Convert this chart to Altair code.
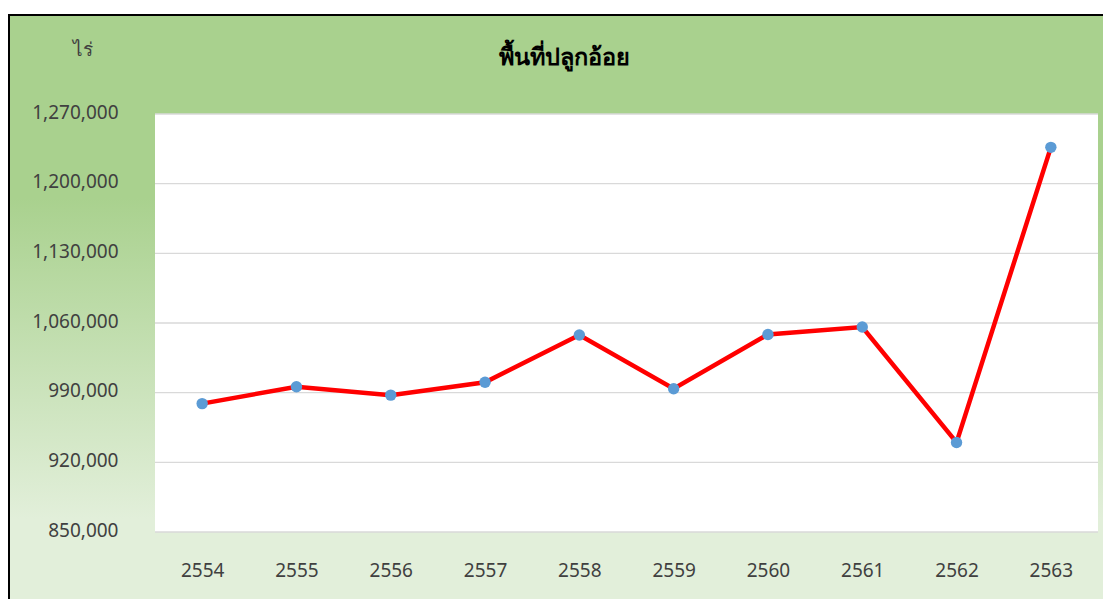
import altair as alt
import pandas as pd

years = ["2554", "2555", "2556", "2557", "2558", "2559", "2560", "2561", "2562", "2563"]
area = [979000, 996000, 987500, 1000500, 1048000, 994000, 1048500, 1056000, 940000, 1236500]
ticks = [850000, 920000, 990000, 1060000, 1130000, 1200000, 1270000]
title_text = "พื้นที่ปลูกอ้อย"
unit_text = "ไร่"

W, H = 943, 418
FONT = "Noto Sans"

df = pd.DataFrame({"year": years, "area": area})
grid_df = pd.DataFrame({"v": ticks})
one = pd.DataFrame({"a": [0]})

ydom = [ticks[0], ticks[-1]]

bg = alt.Chart(one).mark_rect(
    fill={
        "gradient": "linear",
        "x1": 0, "y1": 0, "x2": 0, "y2": 1,
        "stops": [
            {"offset": 0.0, "color": "#A9D18E"},
            {"offset": 0.305, "color": "#A9D18E"},
            {"offset": 0.84, "color": "#E2EFDA"},
            {"offset": 1.0, "color": "#E2EFDA"},
        ],
    },
    stroke="black",
    strokeWidth=2,
).encode(
    x=alt.value(-146), x2=alt.value(W + 200),
    y=alt.value(-99), y2=alt.value(501),
)

plot_bg = alt.Chart(one).mark_rect(fill="white").encode(
    x=alt.value(0), x2=alt.value(W), y=alt.value(0), y2=alt.value(H)
)

grid = alt.Chart(grid_df).mark_rule(color="#D9D9D9", strokeWidth=1.3).encode(
    y=alt.Y("v:Q", scale=alt.Scale(domain=ydom, nice=False, zero=False))
)

line = alt.Chart(df).mark_line(
    color="#FF0000", strokeWidth=4.5,
    point=alt.OverlayMarkDef(filled=True, color="#5B9BD5", size=130, opacity=1),
).encode(
    x=alt.X("year:O", sort=years, scale=alt.Scale(padding=0.5),
            axis=alt.Axis(title=None, labelAngle=0, domain=False, ticks=False, tickSize=0,
                          labelFont=FONT, labelFontSize=19, labelColor="#404040",
                          labelBaseline="top", labelPadding=29, zindex=1)),
    y=alt.Y("area:Q", scale=alt.Scale(domain=ydom, nice=False, zero=False),
            axis=alt.Axis(values=ticks, format=",d", grid=False, domain=False, ticks=False,
                          tickSize=0, labelFont=FONT, labelFontSize=19, labelColor="#404040",
                          labelPadding=37, labelOffset=-2, zindex=1,
                          title=unit_text, titleAngle=0, titleX=-73, titleY=-59,
                          titleAlign="center", titleBaseline="alphabetic",
                          titleFont=FONT, titleFontSize=19, titleFontWeight="normal",
                          titleColor="#404040")),
)

chart = alt.layer(bg, plot_bg, grid, line).properties(
    width=W, height=H,
    title=alt.Title(title_text, font=FONT, fontSize=23.5, fontWeight="bold", color="#000000",
                    anchor="middle", dx=-62, dy=55, offset=0),
    autosize=alt.AutoSizeParams(type="none"),
    padding={"left": 147, "top": 106, "right": 5, "bottom": 67},
).configure(background="white").configure_view(stroke=None)

chart.save("out.html", embed_options={"renderer": "svg", "actions": False})
